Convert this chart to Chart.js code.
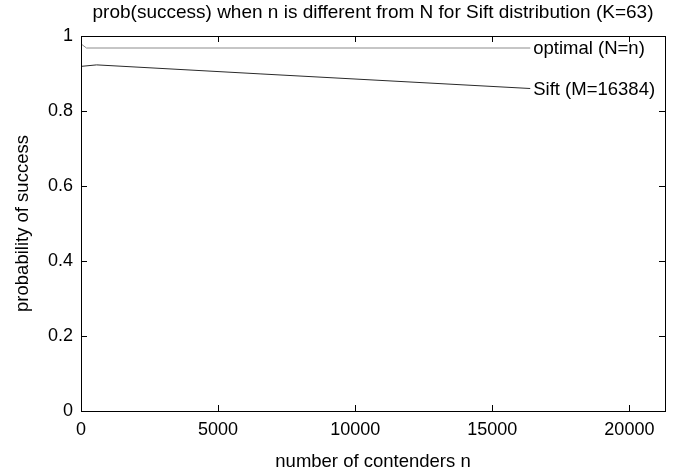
<!DOCTYPE html>
<html>
<head>
<meta charset="utf-8">
<script src="https://cdn.jsdelivr.net/npm/chart.js@4.4.1/dist/chart.umd.min.js"></script>
<style>
    html, body { margin: 0; padding: 0; background: #fff; }
    #wrap { width: 690px; height: 474px; }
</style>
</head>
<body>
<div id="wrap"><canvas id="probChart"></canvas></div>
<script>
// values
const optimalN = [1, 200, 16384];
const optimalP = [0.979, 0.968, 0.968];
const siftN = [1, 570, 6530, 16384];
const siftP = [0.919, 0.923, 0.899, 0.860];
const xTicks = [0, 5000, 10000, 15000, 20000];
const yTicks = [0, 0.2, 0.4, 0.6, 0.8, 1];
const xMax = 21299;
const chartTitle = 'prob(success) when n is different from N for Sift distribution (K=63)';

const FONT = 'Liberation Sans, Arial, sans-serif';

function toPoints(xs, ys) {
    return xs.map(function (x, i) { return { x: x, y: ys[i] }; });
}

// gnuplot-like frame with inward ticks on all four sides, title over the plot
const framePlugin = {
    id: 'frame',
    afterDraw: function (chart) {
        const ctx = chart.ctx;
        const a = chart.chartArea;
        const xs = chart.scales.x;
        const ys = chart.scales.y;
        const len = 6;
        ctx.save();
        ctx.strokeStyle = '#000';
        ctx.lineWidth = 1;
        ctx.beginPath();
        xTicks.forEach(function (v) {
            const px = Math.round(xs.getPixelForValue(v)) + 0.5;
            ctx.moveTo(px, a.bottom); ctx.lineTo(px, a.bottom - len);
            ctx.moveTo(px, a.top); ctx.lineTo(px, a.top + len);
        });
        yTicks.forEach(function (v) {
            const py = Math.round(ys.getPixelForValue(v)) + 0.5;
            ctx.moveTo(a.left, py); ctx.lineTo(a.left + len, py);
            ctx.moveTo(a.right, py); ctx.lineTo(a.right - len, py);
        });
        ctx.stroke();
        ctx.strokeRect(Math.round(a.left) + 0.5, Math.round(a.top) + 0.5,
            Math.round(a.right - a.left), Math.round(a.bottom - a.top));

        ctx.font = '19px ' + FONT;
        ctx.fillStyle = '#000';
        ctx.textAlign = 'center';
        ctx.textBaseline = 'middle';
        ctx.fillText(chartTitle, (a.left + a.right) / 2, 13);
        ctx.restore();
    }
};

// series names written right after the last point of each line
const endLabelPlugin = {
    id: 'endLabels',
    afterDatasetsDraw: function (chart) {
        const ctx = chart.ctx;
        ctx.save();
        ctx.font = '18.5px ' + FONT;
        ctx.fillStyle = '#000';
        ctx.textBaseline = 'middle';
        ctx.textAlign = 'left';
        chart.data.datasets.forEach(function (ds, i) {
            const pts = chart.getDatasetMeta(i).data;
            const last = pts[pts.length - 1];
            ctx.fillText(ds.label, last.x + 3, last.y + 1);
        });
        ctx.restore();
    }
};

const ctx = document.getElementById('probChart');
new Chart(ctx, {
    type: 'line',
    data: {
        datasets: [{
            label: 'optimal (N=n)',
            data: toPoints(optimalN, optimalP),
            borderColor: '#8c8c8c',
            borderWidth: 1,
            pointRadius: 0,
            tension: 0
        }, {
            label: 'Sift (M=16384)',
            data: toPoints(siftN, siftP),
            borderColor: '#2a2a2a',
            borderWidth: 1,
            pointRadius: 0,
            tension: 0
        }]
    },
    options: {
        responsive: true,
        maintainAspectRatio: false,
        animation: false,
        layout: { padding: { left: 0, right: 25, top: 36, bottom: 0 } },
        plugins: {
            legend: { display: false },
            tooltip: { enabled: false },
            title: { display: false }
        },
        scales: {
            x: {
                type: 'linear',
                min: 0,
                max: xMax,
                afterBuildTicks: function (scale) {
                    scale.ticks = xTicks.map(function (v) { return { value: v }; });
                },
                afterFit: function (scale) { scale.height = 63; },
                grid: { display: false, drawTicks: false },
                border: { display: false },
                ticks: {
                    color: '#000',
                    padding: 8,
                    maxRotation: 0,
                    font: { family: FONT, size: 18 },
                    callback: function (v) { return String(v); }
                },
                title: {
                    display: true,
                    text: 'number of contenders n',
                    color: '#000',
                    font: { family: FONT, size: 18.5 },
                    padding: { top: 0, bottom: 1 }
                }
            },
            y: {
                min: 0,
                max: 1,
                afterBuildTicks: function (scale) {
                    scale.ticks = yTicks.map(function (v) { return { value: v }; });
                },
                afterFit: function (scale) { scale.width = 81; },
                grid: { display: false, drawTicks: false },
                border: { display: false },
                ticks: {
                    color: '#000',
                    padding: 8,
                    font: { family: FONT, size: 18 },
                    callback: function (v) { return String(Math.round(v * 10) / 10); }
                },
                title: {
                    display: true,
                    text: 'probability of success',
                    color: '#000',
                    font: { family: FONT, size: 18.5 },
                    padding: { top: 12, bottom: 0 }
                }
            }
        }
    },
    plugins: [framePlugin, endLabelPlugin]
});
</script>
</body>
</html>
